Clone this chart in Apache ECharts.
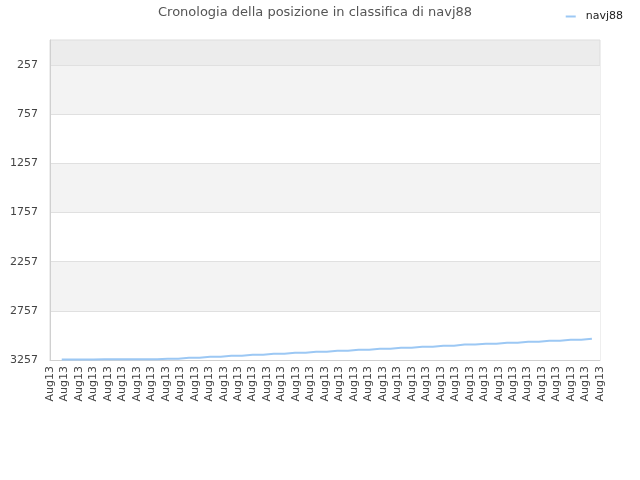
<!DOCTYPE html>
<html>
<head>
<meta charset="utf-8">
<script src="https://cdn.jsdelivr.net/npm/echarts@6/dist/echarts.min.js"></script>
<style>
  html, body { margin: 0; padding: 0; background: #fff; }
  #chart { width: 640px; height: 480px; }
</style>
</head>
<body>
<div id="chart"></div>
<script>
// x tick labels (one per tick, 0..38)
var tickLabels = ['Aug13','Aug13','Aug13','Aug13','Aug13','Aug13','Aug13','Aug13','Aug13','Aug13',
  'Aug13','Aug13','Aug13','Aug13','Aug13','Aug13','Aug13','Aug13','Aug13','Aug13',
  'Aug13','Aug13','Aug13','Aug13','Aug13','Aug13','Aug13','Aug13','Aug13','Aug13',
  'Aug13','Aug13','Aug13','Aug13','Aug13','Aug13','Aug13','Aug13','Aug13'];
var rankTicks = [257, 757, 1257, 1757, 2257, 2757, 3257];

// where each sample sits along the tick scale, and its rank
var samplePos = [0.81, 2.27, 3.74, 5.20, 6.67, 8.13, 9.60, 11.06, 12.53, 14.00,
  15.46, 16.93, 18.39, 19.86, 21.32, 22.79, 24.25, 25.72, 27.18, 28.65,
  30.11, 31.58, 33.04, 34.51, 35.97, 37.44];
var ranks = [3251, 3251, 3250, 3250, 3249, 3244, 3234, 3224, 3213, 3203,
  3193, 3183, 3173, 3163, 3152, 3142, 3132, 3122, 3112, 3100,
  3091, 3081, 3071, 3061, 3052, 3040];

var chart = echarts.init(document.getElementById('chart'));
var font = 'DejaVu Sans';

var points = [];
samplePos.forEach(function (x, i) {
  points.push([x, ranks[i]]);
});

chart.setOption({
  animation: false,
  textStyle: { fontFamily: font },
  title: {
    text: 'Cronologia della posizione in classifica di navj88',
    left: 153,
    top: 1,
    textStyle: { fontFamily: font, fontSize: 13, fontWeight: 'normal', color: '#555' }
  },
  legend: {
    right: 12,
    top: 6,
    icon: 'rect',
    itemWidth: 10,
    itemHeight: 2,
    textStyle: { fontFamily: font, fontSize: 11, color: '#222', padding: [0, 0, 0, 5] },
    data: ['navj88']
  },
  grid: {
    left: 50, right: 40, top: 40, bottom: 120,
    show: true,
    backgroundColor: '#ececec',
    borderColor: '#dddddd',
    borderWidth: 1
  },
  xAxis: {
    type: 'value',
    min: 0,
    max: tickLabels.length - 1,
    interval: 1,
    axisLine: { show: true, lineStyle: { color: '#d0d0d0' } },
    axisTick: { show: false },
    splitLine: { show: false },
    axisLabel: {
      rotate: 90,
      margin: 6,
      fontSize: 11,
      color: '#444',
      showMinLabel: true,
      showMaxLabel: true,
      formatter: function (v) { return tickLabels[Math.round(v)]; }
    }
  },
  yAxis: {
    type: 'value',
    inverse: true,
    min: 1,
    max: 3257,
    axisLine: { show: true, lineStyle: { color: '#d0d0d0' } },
    axisTick: { show: false, customValues: rankTicks },
    axisLabel: {
      customValues: rankTicks, fontSize: 11, color: '#444', margin: 12,
      formatter: function (v) { return String(v); }
    },
    splitLine: { show: true, lineStyle: { color: '#e0e0e0' } },
    splitArea: { show: true, areaStyle: { color: ['#f3f3f3', '#ffffff'] } }
  },
  series: [{
    name: 'navj88',
    type: 'line',
    step: 'middle',
    symbol: 'none',
    color: '#9cc8f4',
    lineStyle: { width: 2, color: '#9cc8f4' },
    data: points
  }]
});
</script>
</body>
</html>
